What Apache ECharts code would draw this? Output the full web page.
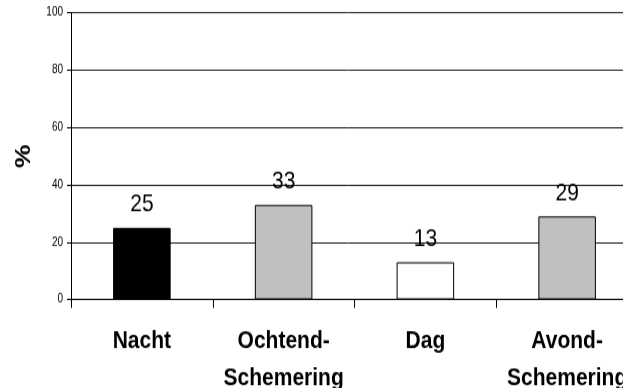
<!DOCTYPE html>
<html>
<head>
<meta charset="utf-8">
<script src="https://cdn.jsdelivr.net/npm/echarts@6/dist/echarts.min.js"></script>
<style>
  html, body { margin: 0; padding: 0; background: #fff; overflow: hidden; }
  #frame { width: 623px; height: 388px; overflow: hidden; }
  /* The chart is laid out on a shorter canvas and stretched vertically,
     giving the tall, condensed lettering of the printed figure. */
  #chart {
    width: 623px;
    height: 345px;
    transform: scaleY(1.2);
    transform-origin: 0 0;
  }
</style>
</head>
<body>
<div id="frame"><div id="chart"></div></div>
<script>
// Share of observations per period of the day (%)
const categories = ['Nacht', 'Ochtend-\nSchemering', 'Dag', 'Avond-\nSchemering'];
const percentages = [25, 33, 13, 29];
const yTicks = [0, 20, 40, 60, 80, 100];

const FONT = '"Liberation Sans", Arial, sans-serif';
const fills = ['#000000', '#c0c0c0', '#ffffff', '#c0c0c0'];

const chart = echarts.init(document.getElementById('chart'), null, { renderer: 'canvas' });

chart.setOption({
  animation: false,
  backgroundColor: '#ffffff',
  grid: {
    left: 71, top: 10.6, width: 567, height: 239,
    containLabel: false,
    outerBoundsMode: 'none'
  },
  xAxis: {
    type: 'category',
    data: categories,
    axisLine: { show: true, lineStyle: { color: '#000', width: 1 } },
    axisTick: { show: true, length: 7, alignWithLabel: false, lineStyle: { color: '#000' } },
    axisLabel: {
      show: true,
      interval: 0,
      hideOverlap: false,
      margin: 19,
      color: '#000',
      fontFamily: FONT,
      fontWeight: 'bold',
      fontSize: 21,
      lineHeight: 31
    },
    splitLine: { show: false }
  },
  yAxis: {
    type: 'value',
    min: yTicks[0],
    max: yTicks[yTicks.length - 1],
    interval: yTicks[1] - yTicks[0],
    name: '%',
    nameLocation: 'middle',
    nameRotate: 90,
    nameGap: 25,
    nameTextStyle: {
      color: '#000',
      fontFamily: FONT,
      fontWeight: 'bold',
      fontSize: 22
    },
    axisLine: { show: true, lineStyle: { color: '#000', width: 1 } },
    axisTick: { show: true, length: 4, lineStyle: { color: '#000' } },
    axisLabel: {
      margin: 8,
      color: '#000',
      fontFamily: FONT,
      fontSize: 10
    },
    splitLine: { show: true, lineStyle: { color: '#222', width: 1 } }
  },
  series: [{
    type: 'bar',
    barWidth: '40.6%',
    data: percentages.map((v, i) => ({
      value: v,
      itemStyle: { color: fills[i], borderColor: '#000', borderWidth: 1 }
    })),
    label: {
      show: true,
      position: 'top',
      distance: 9,
      color: '#000',
      fontFamily: FONT,
      fontSize: 21
    },
    z: 2
  }]
});
</script>
</body>
</html>
